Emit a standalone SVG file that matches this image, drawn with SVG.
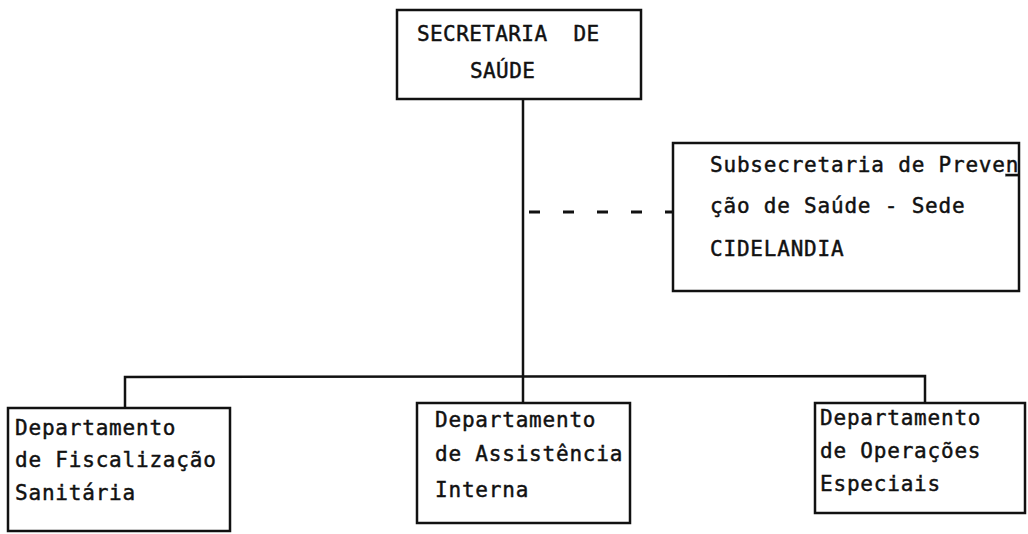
<svg xmlns="http://www.w3.org/2000/svg" width="1028" height="534" viewBox="0 0 1028 534">
<style>
.box{fill:#fff;stroke:#111;stroke-width:2.5}
.t{font-family:"DejaVu Sans Mono","Liberation Mono",monospace;font-size:21px;letter-spacing:0.8px;fill:#111;stroke:#111;stroke-width:0.45;white-space:pre}
.c{fill:none;stroke:#111;stroke-width:2.5}
.d{fill:none;stroke:#111;stroke-width:3;stroke-dasharray:11 23}
</style>
<rect width="1028" height="534" fill="#fff"/>
<g id="connectors">
<line class="c" x1="523" y1="99" x2="523" y2="403"/>
<polyline class="c" points="125,408 125,377 925,376 925,403"/>
<line class="d" x1="529" y1="212" x2="672" y2="212"/>
</g>
<g id="secretaria">
<rect class="box" x="397" y="10" width="244" height="89"/>
<text class="t" x="417" y="41" xml:space="preserve" style="letter-spacing:0.4px">SECRETARIA  DE</text>
<text class="t" x="470" y="78" style="letter-spacing:0.4px">SAÚDE</text>
</g>
<g id="subsecretaria">
<rect class="box" x="673" y="143" width="346" height="148"/>
<text class="t" x="710" y="172">Subsecretaria de Preve<tspan style="text-decoration:underline">n</tspan></text>
<text class="t" x="710" y="213">ção de Saúde - Sede</text>
<text class="t" x="710" y="256">CIDELANDIA</text>
</g>
<g id="dep-fiscalizacao">
<rect class="box" x="8" y="408" width="222" height="123"/>
<text class="t" x="15" y="435">Departamento</text>
<text class="t" x="15" y="467">de Fiscalização</text>
<text class="t" x="15" y="500">Sanitária</text>
</g>
<g id="dep-assistencia">
<rect class="box" x="417" y="403" width="213" height="120"/>
<text class="t" x="435" y="427">Departamento</text>
<text class="t" x="435" y="461">de Assistência</text>
<text class="t" x="435" y="497">Interna</text>
</g>
<g id="dep-operacoes">
<rect class="box" x="815" y="403" width="210" height="110"/>
<text class="t" x="820" y="425">Departamento</text>
<text class="t" x="820" y="458">de Operações</text>
<text class="t" x="820" y="491">Especiais</text>
</g>
</svg>
